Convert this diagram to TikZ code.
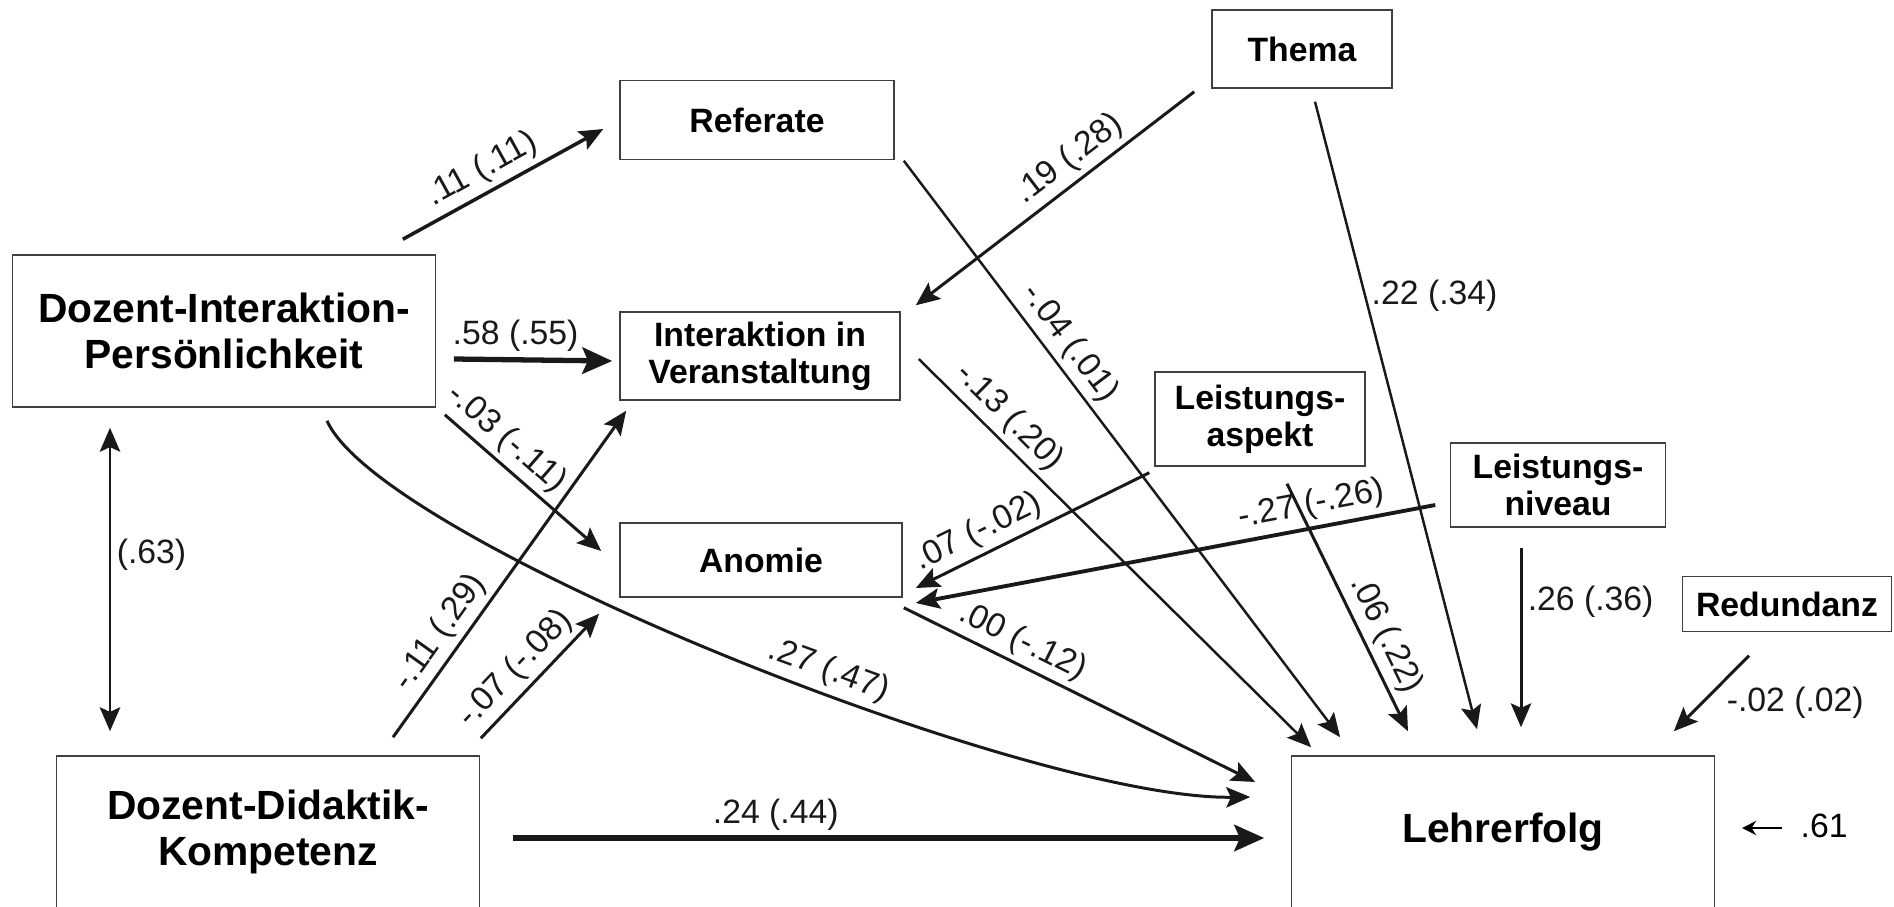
\documentclass[tikz,border=0pt]{standalone}
\usepackage{fontspec}
\setmainfont{Liberation Sans}
\usetikzlibrary{arrows.meta, calc}

\tikzset{
  varbox/.style={draw=black!75, line width=0.4pt, align=center, inner sep=0pt,
    font=\fontsize{9.6}{10.6}\selectfont\bfseries},
  bigbox/.style={varbox, font=\fontsize{11.6}{13.2}\selectfont\bfseries},
  conn/.style={-{Stealth[length=6.8pt,width=5.8pt,inset=1.3pt]}, line width=0.85pt, black!90},
  thickconn/.style={-{Stealth[length=8.5pt,width=7.5pt,inset=1.6pt]}, line width=1.5pt, black!90},
  coef/.style={font=\fontsize{9.6}{11}\selectfont, inner sep=1.5pt},
}

\begin{document}
\begin{tikzpicture}[x=0.01cm, y=-0.01cm]
\useasboundingbox (0,0) rectangle (1894,906);

% variables
\node[varbox, minimum width=1.8cm, minimum height=0.78cm] (thema) at (1302,49) {Thema};
\node[varbox, minimum width=2.74cm, minimum height=0.79cm] (referate) at (757,120) {Referate};
\node[bigbox, minimum width=4.23cm, minimum height=1.52cm] (dip) at (224,331) {Dozent-Interaktion-\\Persönlichkeit};
\node[varbox, minimum width=2.8cm, minimum height=0.88cm] (interaktion) at (760,356) {Interaktion in\\Veranstaltung};
\node[varbox, minimum width=2.1cm, minimum height=0.94cm] (aspekt) at (1260,419) {Leistungs-\\aspekt};
\node[varbox, minimum width=2.15cm, minimum height=0.84cm] (niveau) at (1558,485) {Leistungs-\\niveau};
\node[varbox, minimum width=2.82cm, minimum height=0.74cm] (anomie) at (761,560) {Anomie};
\node[varbox, minimum width=2.09cm, minimum height=0.55cm] (redundanz) at (1787,604) {Redundanz};
\node[bigbox, minimum width=4.23cm, minimum height=1.52cm] (ddk) at (268,832) {Dozent-Didaktik-\\Kompetenz};
\node[bigbox, minimum width=4.23cm, minimum height=1.52cm] (lehrerfolg) at (1503,832) {Lehrerfolg};

% paths from Dozent-Interaktion-Persoenlichkeit
\draw[conn, line width=1pt] ([shift={(-33.5,-15)}]dip.north east) -- node[coef, pos=0.45, sloped, above] {.11 (.11)} ([shift={(-16,9)}]referate.west);
\draw[thickconn] ([shift={(17.5,28)}]dip.east) -- node[coef, pos=0.39, above] {.58 (.55)} ([shift={(-7,5)}]interaktion.west);
\draw[conn] ([shift={(8.5,7)}]dip.south east) -- node[coef, pos=0.3, sloped, above] {-.03 (-.11)} ([shift={(-18,-9)}]anomie.west);
\draw[conn] ([shift={(103,13)}]dip.south) .. controls +(53,120) and +(-221,3) .. node[coef, pos=0.58, sloped, above] {.27 (.47)} ([shift={(-40.5,-35)}]lehrerfolg.west);
\draw[conn, {Stealth[length=6.8pt,width=5.8pt,inset=1.3pt]}-{Stealth[length=6.8pt,width=5.8pt,inset=1.3pt]}] ([shift={(-114,20)}]dip.south) -- node[coef, pos=0.42, right] {(.63)} ([shift={(-158,-24)}]ddk.north);

% paths from Dozent-Didaktik-Kompetenz
\draw[conn] ([shift={(125,-18)}]ddk.north) -- node[coef, pos=0.28, sloped, above] {-.11 (.29)} ([shift={(7,10)}]interaktion.south west);
\draw[conn] ([shift={(0.5,-17)}]ddk.north east) -- node[coef, pos=0.43, sloped, above] {-.07 (-.08)} ([shift={(-20,16)}]anomie.south west);
\draw[thickconn] ([shift={(32.5,6)}]ddk.east) -- node[coef, pos=0.35, above] {.24 (.44)} ([shift={(-26.5,6)}]lehrerfolg.west);

% mediators and context
\draw[conn, line width=0.7pt] ([shift={(9,0.5)}]referate.south east) -- node[coef, pos=0.34, sloped, above] {-.04 (.01)} ([shift={(49.5,-18)}]lehrerfolg.north west);
\draw[conn, line width=0.7pt] ([shift={(18,3)}]interaktion.east) -- node[coef, pos=0.19, sloped, above] {-.13 (.20)} ([shift={(20.5,-8)}]lehrerfolg.north west);
\draw[conn] ([shift={(-17,3)}]thema.south west) -- node[coef, pos=0.4, sloped, above] {.19 (.28)} ([shift={(15,-6)}]interaktion.north east);
\draw[conn, line width=0.7pt] ([shift={(13,13)}]thema.south) -- node[coef, pos=0.31, right] {.22 (.34)} ([shift={(-26,-26)}]lehrerfolg.north);
\draw[conn] ([shift={(-5,6)}]aspekt.south west) -- node[coef, pos=0.69, sloped, above] {.07 (-.02)} ([shift={(13,28)}]anomie.east);
\draw[conn] ([shift={(27,17)}]aspekt.south) -- node[coef, pos=0.65, sloped, above] {.06 (.22)} ([shift={(-95,-24)}]lehrerfolg.north);
\draw[conn, line width=1.1pt] ([shift={(-14.5,20)}]niveau.west) -- node[coef, pos=0.23, sloped, above] {-.27 (-.26)} ([shift={(13,43)}]anomie.east);
\draw[conn] ([shift={(-37,20)}]niveau.south) -- node[coef, pos=0.3, right] {.26 (.36)} ([shift={(18,-28)}]lehrerfolg.north);
\draw[conn] ([shift={(-38,23.5)}]redundanz.south) -- node[coef, pos=0.62, right=5pt] {-.02 (.02)} ([shift={(-41.5,-24)}]lehrerfolg.north east);
\draw[conn] ([shift={(1,10)}]anomie.south east) -- node[coef, pos=0.31, sloped, above] {.00 (-.12)} ([shift={(-35.5,-50)}]lehrerfolg.west);

% residual
\node[coef, inner sep=0pt, anchor=west] (resid) at (1800,826) {.61};
\coordinate (residend) at (1742,828);
\draw[-{Stealth[length=4pt,width=4pt]}, line width=0.5pt] ([shift={(-18,2)}]resid.west) -- (residend);
\end{tikzpicture}
\end{document}
